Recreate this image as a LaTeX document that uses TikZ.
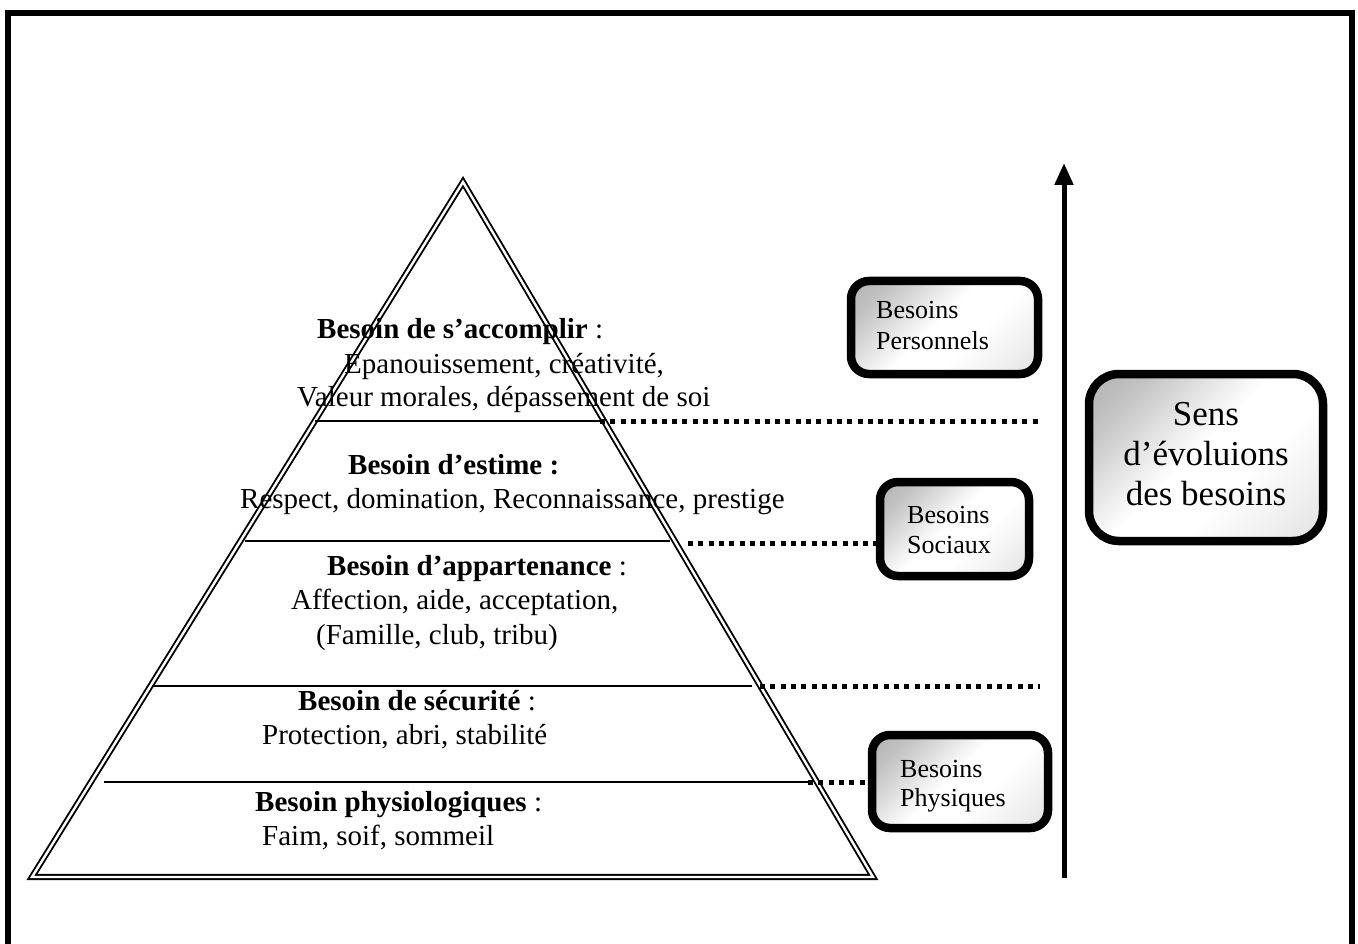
\documentclass[tikz,border=0pt]{standalone}
\usepackage{fontspec}
\setmainfont{Liberation Serif}
\usetikzlibrary{arrows.meta}
\pgfdeclarehorizontalshading{boxshade}{100bp}{color(0bp)=(black!40); color(25bp)=(black!24); color(47bp)=(white); color(60bp)=(white); color(78bp)=(black!8); color(100bp)=(black!18)}
\tikzset{
  frame/.style={line width=6pt},
  pyr/.style={double, double distance=2.4pt, line width=1.9pt, line join=miter},
  level/.style={line width=1.4pt},
  dots/.style={line width=5pt, dash pattern=on 5pt off 5.3pt},
  needbox/.style={draw, line width=8.5pt, rounded corners=18pt, shading=boxshade, shading angle=-45, inner sep=0pt},
  ptxt/.style={font=\fontsize{29}{34}\selectfont, inner sep=0pt, anchor=base west},
  btxt/.style={font=\fontsize{26}{30}\selectfont, inner sep=0pt, anchor=base west},
  stxt/.style={font=\fontsize{35}{40}\selectfont, inner sep=0pt, anchor=base},
  evol/.style={line width=5pt, -{Triangle[width=18pt, length=22pt]}}
}
\begin{document}
\begin{tikzpicture}[x=1pt,y=-1pt]
\useasboundingbox (0,0) rectangle (1358,944);
\begin{scope}
\clip (0,0) rectangle (1358,944);
\draw[frame] (8,980) -- (8,13.5) -- (1352,13.5) -- (1352,980);
\end{scope}

% pyramid
\coordinate (apex) at (463,182);
\coordinate (bl) at (32,877);
\coordinate (br) at (873,877);
\draw[pyr] (apex) -- (bl) -- (br) -- cycle;

% level lines
\coordinate (L1a) at (315,421); \coordinate (L1b) at (600,421);
\coordinate (L2a) at (245,541); \coordinate (L2b) at (670,541);
\coordinate (L3a) at (152,686); \coordinate (L3b) at (752,686);
\coordinate (L4a) at (104,782); \coordinate (L4b) at (808,782);
\draw[level] (L1a) -- (L1b);
\draw[level] (L2a) -- (L2b);
\draw[level] (L3a) -- (L3b);
\draw[level] (L4a) -- (L4b);

% boxes
\node[needbox, minimum width=187pt, minimum height=93pt] (perso) at (944.5,327.5) {};
\node[needbox, minimum width=149pt, minimum height=94pt] (soc) at (954.5,529) {};
\node[needbox, minimum width=176pt, minimum height=93pt] (phys) at (960,781.5) {};
\node[needbox, minimum width=234pt, minimum height=167pt, rounded corners=30pt] (sens) at (1206,457.5) {};

\node[btxt] (pe1) at (876,319) {Besoins};
\node[btxt] (pe2) at (876,349) {Personnels};
\node[btxt] (so1) at (907,523) {Besoins};
\node[btxt] (so2) at (907,553) {Sociaux};
\node[btxt] (ph1) at (900,777) {Besoins};
\node[btxt] (ph2) at (900,806) {Physiques};
\node[stxt] (se1) at (1206,425) {Sens};
\node[stxt] (se2) at (1206,465) {d’évoluions};
\node[stxt] (se3) at (1206,505) {des besoins};

% dotted connectors
\coordinate (D1e) at (1040,421);
\coordinate (D2s) at (688,543);
\coordinate (D3s) at (760,686);
\coordinate (D3e) at (1040,686);
\draw[dots] (L1b) -- (D1e);
\draw[dots] (D2s) -- (soc.west |- D2s);
\draw[dots] (D3s) -- (D3e);
\draw[dots] (L4b) -- (phys.west |- L4b);

% evolution arrow
\coordinate (ab) at (1064,878);
\coordinate (at) at (1064,163);
\draw[evol] (ab) -- (at);

% pyramid texts
\node[ptxt] (t11) at (317,338) {\textbf{Besoin de s’accomplir} :};
\node[ptxt] (t12) at (344,373) {Epanouissement, créativité,};
\node[ptxt] (t13) at (297,406) {Valeur morales, dépassement de soi};
\node[ptxt] (t21) at (348,474) {\textbf{Besoin d’estime :}};
\node[ptxt] (t22) at (240,508) {Respect, domination, Reconnaissance, prestige};
\node[ptxt] (t31) at (327,575) {\textbf{Besoin d’appartenance} :};
\node[ptxt] (t32) at (291,609) {Affection, aide, acceptation,};
\node[ptxt] (t33) at (316,644) {(Famille, club, tribu)};
\node[ptxt] (t41) at (298,710) {\textbf{Besoin de sécurité} :};
\node[ptxt] (t42) at (262,744) {Protection, abri, stabilité};
\node[ptxt] (t51) at (255,811) {\textbf{Besoin physiologiques} :};
\node[ptxt] (t52) at (262,845) {Faim, soif, sommeil};
\end{tikzpicture}
\end{document}
